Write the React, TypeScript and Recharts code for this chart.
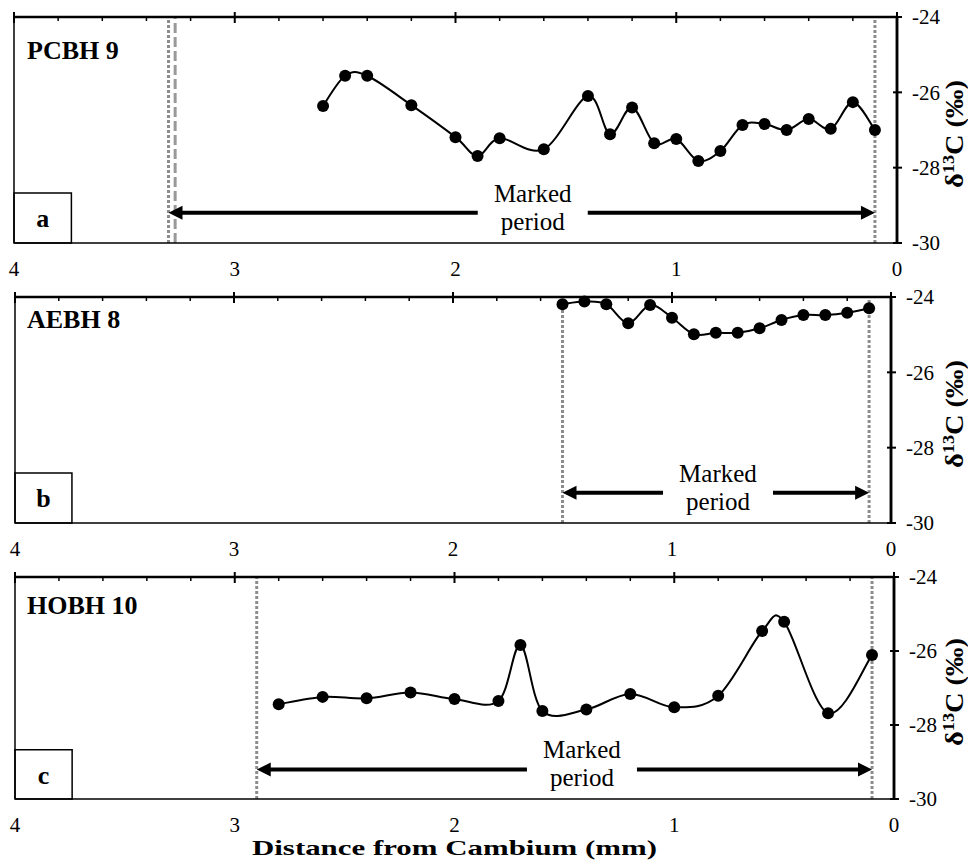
import React from "react";
import {
  Line,
  LineChart,
  ReferenceArea,
  ReferenceDot,
  ReferenceLine,
  XAxis,
  YAxis
} from "recharts";

const FONT = '"Liberation Serif", "Times New Roman", serif';

// axis ticks
const bottomTicks = [0, 1, 2, 3, 4];
const topTicks = [0, 0.2, 0.4, 0.6, 0.8, 1, 1.2, 1.4, 1.6, 1.8, 2, 2.2, 2.4, 2.6, 2.8, 3, 3.2, 3.4, 3.6, 3.8, 4];
const yTicks = [-30, -28, -26, -24];

// a) PCBH 9
const pcbhDistance = [2.6, 2.5, 2.4, 2.2, 2.0, 1.9, 1.8, 1.6, 1.4, 1.3, 1.2, 1.1, 1.0, 0.9, 0.8, 0.7, 0.6, 0.5, 0.4, 0.3, 0.2, 0.1];
const pcbhD13C = [-26.36, -25.56, -25.56, -26.34, -27.19, -27.69, -27.22, -27.51, -26.1, -27.11, -26.4, -27.35, -27.24, -27.82, -27.56, -26.87, -26.84, -27.0, -26.71, -26.97, -26.26, -27.0];

// b) AEBH 8
const aebhDistance = [1.5, 1.4, 1.3, 1.2, 1.1, 1.0, 0.9, 0.8, 0.7, 0.6, 0.5, 0.4, 0.3, 0.2, 0.1];
const aebhD13C = [-24.19, -24.12, -24.19, -24.7, -24.21, -24.55, -24.99, -24.95, -24.95, -24.83, -24.61, -24.48, -24.48, -24.42, -24.3];

// c) HOBH 10
const hobhDistance = [2.8, 2.6, 2.4, 2.2, 2.0, 1.8, 1.7, 1.6, 1.4, 1.2, 1.0, 0.8, 0.6, 0.5, 0.3, 0.1];
const hobhD13C = [-27.44, -27.24, -27.28, -27.12, -27.3, -27.35, -25.84, -27.62, -27.58, -27.16, -27.52, -27.21, -25.46, -25.21, -27.68, -26.11];

// marked period (start, end) per core
const pcbhPeriod = [3.3, 0.1];
const aebhPeriod = [1.5, 0.1];
const hobhPeriod = [2.9, 0.1];

const zip = (xs: number[], ys: number[]) => xs.map((distance, i) => ({ distance, d13c: ys[i] }));

// Excel-like smoothed line (Catmull-Rom through the points)
function smoothCurve(context: any) {
  let pts: [number, number][] = [];
  return {
    areaStart() {},
    areaEnd() {},
    lineStart() {
      pts = [];
    },
    point(x: number, y: number) {
      pts.push([+x, +y]);
    },
    lineEnd() {
      if (!pts.length) return;
      context.moveTo(pts[0][0], pts[0][1]);
      for (let i = 0; i < pts.length - 1; i++) {
        const p0 = pts[i - 1] ?? pts[i];
        const p1 = pts[i];
        const p2 = pts[i + 1];
        const p3 = pts[i + 2] ?? p2;
        context.bezierCurveTo(
          p1[0] + (p2[0] - p0[0]) / 6,
          p1[1] + (p2[1] - p0[1]) / 6,
          p2[0] - (p3[0] - p1[0]) / 6,
          p2[1] - (p3[1] - p1[1]) / 6,
          p2[0],
          p2[1]
        );
      }
    }
  };
}

function TopTick({ x, y, payload }: any) {
  const major = Number.isInteger(payload.value);
  return major ? (
    <line x1={x} x2={x} y1={y - 5} y2={y + 6} stroke="#000" strokeWidth={2} />
  ) : (
    <line x1={x} x2={x} y1={y} y2={y + 4} stroke="#000" strokeWidth={1.5} />
  );
}

function RightTick({ x, y, payload }: any) {
  return (
    <g>
      <line x1={x - 4} x2={x + 5} y1={y} y2={y} stroke="#000" strokeWidth={2} />
      <text x={x + 15} y={y} dy="0.35em" fontSize={21} fontFamily={FONT} fill="#000">
        {payload.value}
      </text>
    </g>
  );
}

function YLabel({ viewBox }: any) {
  const cx = viewBox.x + viewBox.width - 5;
  const cy = viewBox.y + viewBox.height / 2 + 4;
  return (
    <text
      transform={`translate(${cx},${cy}) rotate(-90)`}
      textAnchor="middle"
      fontSize={25}
      fontWeight="bold"
      fontFamily={FONT}
      fill="#000"
      textLength={108}
      lengthAdjust="spacingAndGlyphs"
    >
      δ<tspan dy={-9} fontSize={16}>13</tspan>
      <tspan dy={9}>C (‰)</tspan>
    </text>
  );
}

function DoubleArrow({ x1, x2, y1 }: any) {
  const l = Math.min(x1, x2);
  const r = Math.max(x1, x2);
  return (
    <g>
      <line x1={l + 10} x2={r - 10} y1={y1} y2={y1} stroke="#000" strokeWidth={4} />
      <polygon points={`${l},${y1} ${l + 14},${y1 - 7} ${l + 14},${y1 + 7}`} fill="#000" />
      <polygon points={`${r},${y1} ${r - 14},${y1 - 7} ${r - 14},${y1 + 7}`} fill="#000" />
    </g>
  );
}

function PeriodLabel({ cx, cy }: any) {
  return (
    <g>
      <rect x={cx - 55} y={cy - 8} width={110} height={16} fill="#fff" />
      <text x={cx} y={cy - 11} textAnchor="middle" fontSize={25} fontFamily={FONT} fill="#000">
        Marked
      </text>
      <text x={cx} y={cy + 17} textAnchor="middle" fontSize={25} fontFamily={FONT} fill="#000">
        period
      </text>
    </g>
  );
}

function XTitle({ viewBox }: any) {
  return (
    <text
      x={viewBox.x + viewBox.width / 2}
      y={viewBox.y + 56}
      textAnchor="middle"
      fontSize={22}
      fontWeight="bold"
      fontFamily={FONT}
      fill="#000"
      textLength={405}
      lengthAdjust="spacingAndGlyphs"
    >
      Distance from Cambium (mm)
    </text>
  );
}

type PanelProps = {
  title: string;
  letter: string;
  data: { distance: number; d13c: number }[];
  period: number[];
  labelAt: number;
  extraDash?: number;
  top: number;
  height: number;
  left: number;
  yWidth: number;
  xAxisHeight: number;
  titleTop: number;
  withTitle?: boolean;
};

function Panel(p: PanelProps) {
  return (
    <div style={{ position: "absolute", left: 0, top: p.top, width: 968, height: p.height }}>
      <LineChart width={968} height={p.height} data={p.data} margin={{ top: 16, right: 0, bottom: 0, left: p.left }}>
        <XAxis
          dataKey="distance"
          type="number"
          domain={[0, 4]}
          reversed
          ticks={bottomTicks}
          interval={0}
          height={p.xAxisHeight}
          tickLine={false}
          tickSize={0}
          tickMargin={18}
          axisLine={{ stroke: "#000", strokeWidth: 1.5 }}
          tick={{ fontSize: 21, fill: "#000", fontFamily: FONT }}
          label={p.withTitle ? <XTitle /> : undefined}
        />
        <XAxis
          xAxisId="top"
          orientation="top"
          dataKey="distance"
          type="number"
          domain={[0, 4]}
          reversed
          ticks={topTicks}
          interval={0}
          height={1}
          tickLine={false}
          tickSize={0}
          tickMargin={0}
          axisLine={{ stroke: "#000", strokeWidth: 2.5 }}
          tick={<TopTick />}
        />
        <YAxis
          orientation="right"
          type="number"
          domain={[-30, -24]}
          ticks={yTicks}
          interval={0}
          width={p.yWidth}
          tickLine={false}
          tickSize={0}
          tickMargin={0}
          axisLine={{ stroke: "#000", strokeWidth: 2.5 }}
          tick={<RightTick />}
          label={<YLabel />}
        />
        <ReferenceLine x={4} stroke="#000" strokeWidth={1.5} />
        <ReferenceLine x={0} stroke="#000" strokeWidth={2.5} />
        <ReferenceArea
          x1={4}
          x2={3.74}
          y1={-30}
          y2={-28.67}
          fill="#fff"
          fillOpacity={1}
          stroke="#000"
          strokeWidth={1.5}
          label={{ value: p.letter, position: "center", fontSize: 26, fontWeight: "bold", fontFamily: FONT, fill: "#000" }}
        />
        <Line
          dataKey="d13c"
          type={smoothCurve as any}
          stroke="#000"
          strokeWidth={2}
          dot={{ r: 6, fill: "#000", stroke: "#000", strokeWidth: 0 }}
          activeDot={false}
          isAnimationActive={false}
        />
        <ReferenceLine x={p.period[0]} stroke="#8c8c8c" strokeWidth={3} strokeDasharray="3 2" />
        {p.extraDash !== undefined && (
          <ReferenceLine x={p.extraDash} stroke="#999" strokeWidth={3} strokeDasharray="10 4" />
        )}
        <ReferenceLine x={p.period[1]} stroke="#8c8c8c" strokeWidth={3} strokeDasharray="3 2" />
        <ReferenceLine
          segment={[
            { x: p.period[0], y: -29.2 },
            { x: p.period[1], y: -29.2 }
          ]}
          shape={<DoubleArrow />}
        />
        <ReferenceDot x={p.labelAt} y={-29.2} r={1} shape={<PeriodLabel />} />
      </LineChart>
      <div
        style={{
          position: "absolute",
          left: 27,
          top: p.titleTop,
          fontFamily: FONT,
          fontWeight: "bold",
          fontSize: 26,
          lineHeight: "26px",
          whiteSpace: "nowrap"
        }}
      >
        {p.title}
      </div>
    </div>
  );
}

export default function App() {
  return (
    <div style={{ position: "absolute", left: 0, top: 0, width: 968, height: 862, background: "#fff" }}>
      <Panel
        title="PCBH 9"
        letter="a"
        data={zip(pcbhDistance, pcbhD13C)}
        period={pcbhPeriod}
        labelAt={1.65}
        extraDash={3.27}
        top={0}
        height={280}
        left={14}
        yWidth={71}
        xAxisHeight={37}
        titleTop={38}
      />
      <Panel
        title="AEBH 8"
        letter="b"
        data={zip(aebhDistance, aebhD13C)}
        period={aebhPeriod}
        labelAt={0.79}
        top={280}
        height={280}
        left={15}
        yWidth={77}
        xAxisHeight={37}
        titleTop={27}
      />
      <Panel
        title="HOBH 10"
        letter="c"
        data={zip(hobhDistance, hobhD13C)}
        period={hobhPeriod}
        labelAt={1.42}
        top={560}
        height={302}
        left={15}
        yWidth={74}
        xAxisHeight={63}
        titleTop={33}
        withTitle
      />
    </div>
  );
}
